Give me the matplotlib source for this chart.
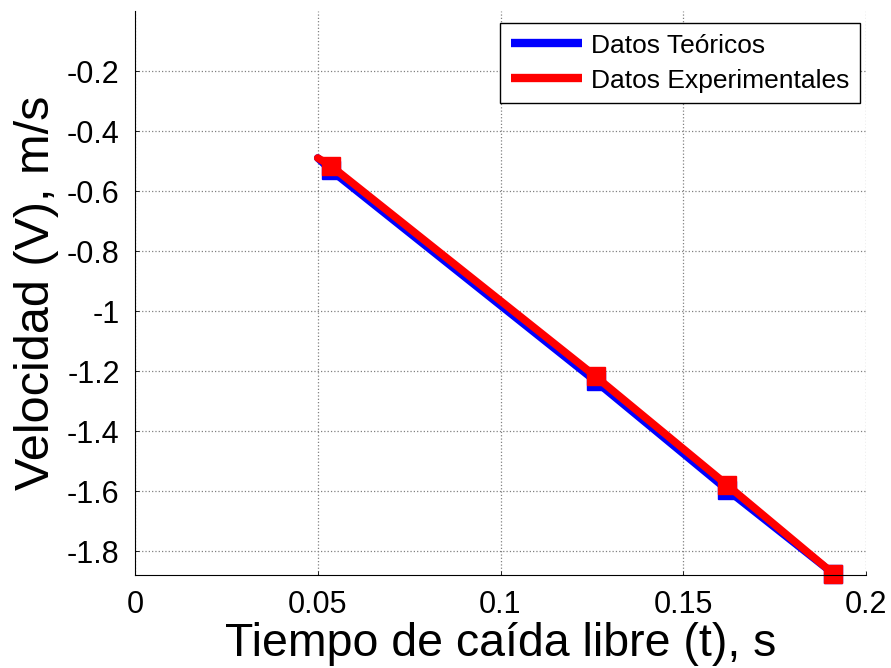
import matplotlib
matplotlib.use("Agg")
import matplotlib.pyplot as plt

# Data
t = [0.050, 0.0535, 0.126, 0.162, 0.191]
v_teo = [-0.49, -0.530, -1.234, -1.596, -1.875]
v_exp = [-0.49, -0.515, -1.218, -1.580, -1.875]
xticks = [0, 0.05, 0.1, 0.15, 0.2]
xticklabels = ["0", "0.05", "0.1", "0.15", "0.2"]
yticks = [-1.8, -1.6, -1.4, -1.2, -1.0, -0.8, -0.6, -0.4, -0.2]
yticklabels = ["-1.8", "-1.6", "-1.4", "-1.2", "-1", "-0.8", "-0.6", "-0.4", "-0.2"]

plt.rcParams['font.family'] = ['Liberation Sans', 'DejaVu Sans']

fig = plt.figure(figsize=(8.91, 6.68), dpi=100)
ax = fig.add_axes([135/891, 1-575/668, (866-135)/891, (575-11)/668])

ax.plot(t, v_teo, color='#0000ff', lw=5.5, marker='s', ms=13, markevery=[1, 2, 3, 4],
        clip_on=False, label='Datos Teóricos', solid_capstyle='round')
ax.plot(t, v_exp, color='#ff0000', lw=5.5, marker='s', ms=13, markevery=[1, 2, 3, 4],
        clip_on=False, label='Datos Experimentales', solid_capstyle='round')

ax.set_xlim(0, 0.2)
ax.set_ylim(-1.88, 0)
ax.set_xticks(xticks)
ax.set_xticklabels(xticklabels)
ax.set_yticks(yticks)
ax.set_yticklabels(yticklabels)
ax.tick_params(direction='in', length=3, width=0.6, labelsize=22, pad=11)
ax.spines['top'].set_visible(False)
ax.spines['right'].set_visible(False)
ax.grid(True, linestyle=':', color='#808080', linewidth=0.9)
ax.set_axisbelow(True)

ax.set_xlabel('Tiempo de caída libre (t), s', fontsize=33.5, labelpad=1)
ax.set_ylabel('Velocidad (V), m/s', fontsize=35, labelpad=6)

leg = ax.legend(loc='upper right', bbox_to_anchor=(0.9918, 0.9787), fontsize=19,
                handlelength=2.7, handletextpad=0.35, borderpad=0.4, labelspacing=0.42,
                fancybox=False, framealpha=1, edgecolor='black', borderaxespad=0)
leg.get_frame().set_linewidth(1.0)
for h in leg.legend_handles:
    h.set_marker('')
    h.set_linewidth(6)
    h.set_solid_capstyle('butt')

fig.savefig('out.png', dpi=100)
